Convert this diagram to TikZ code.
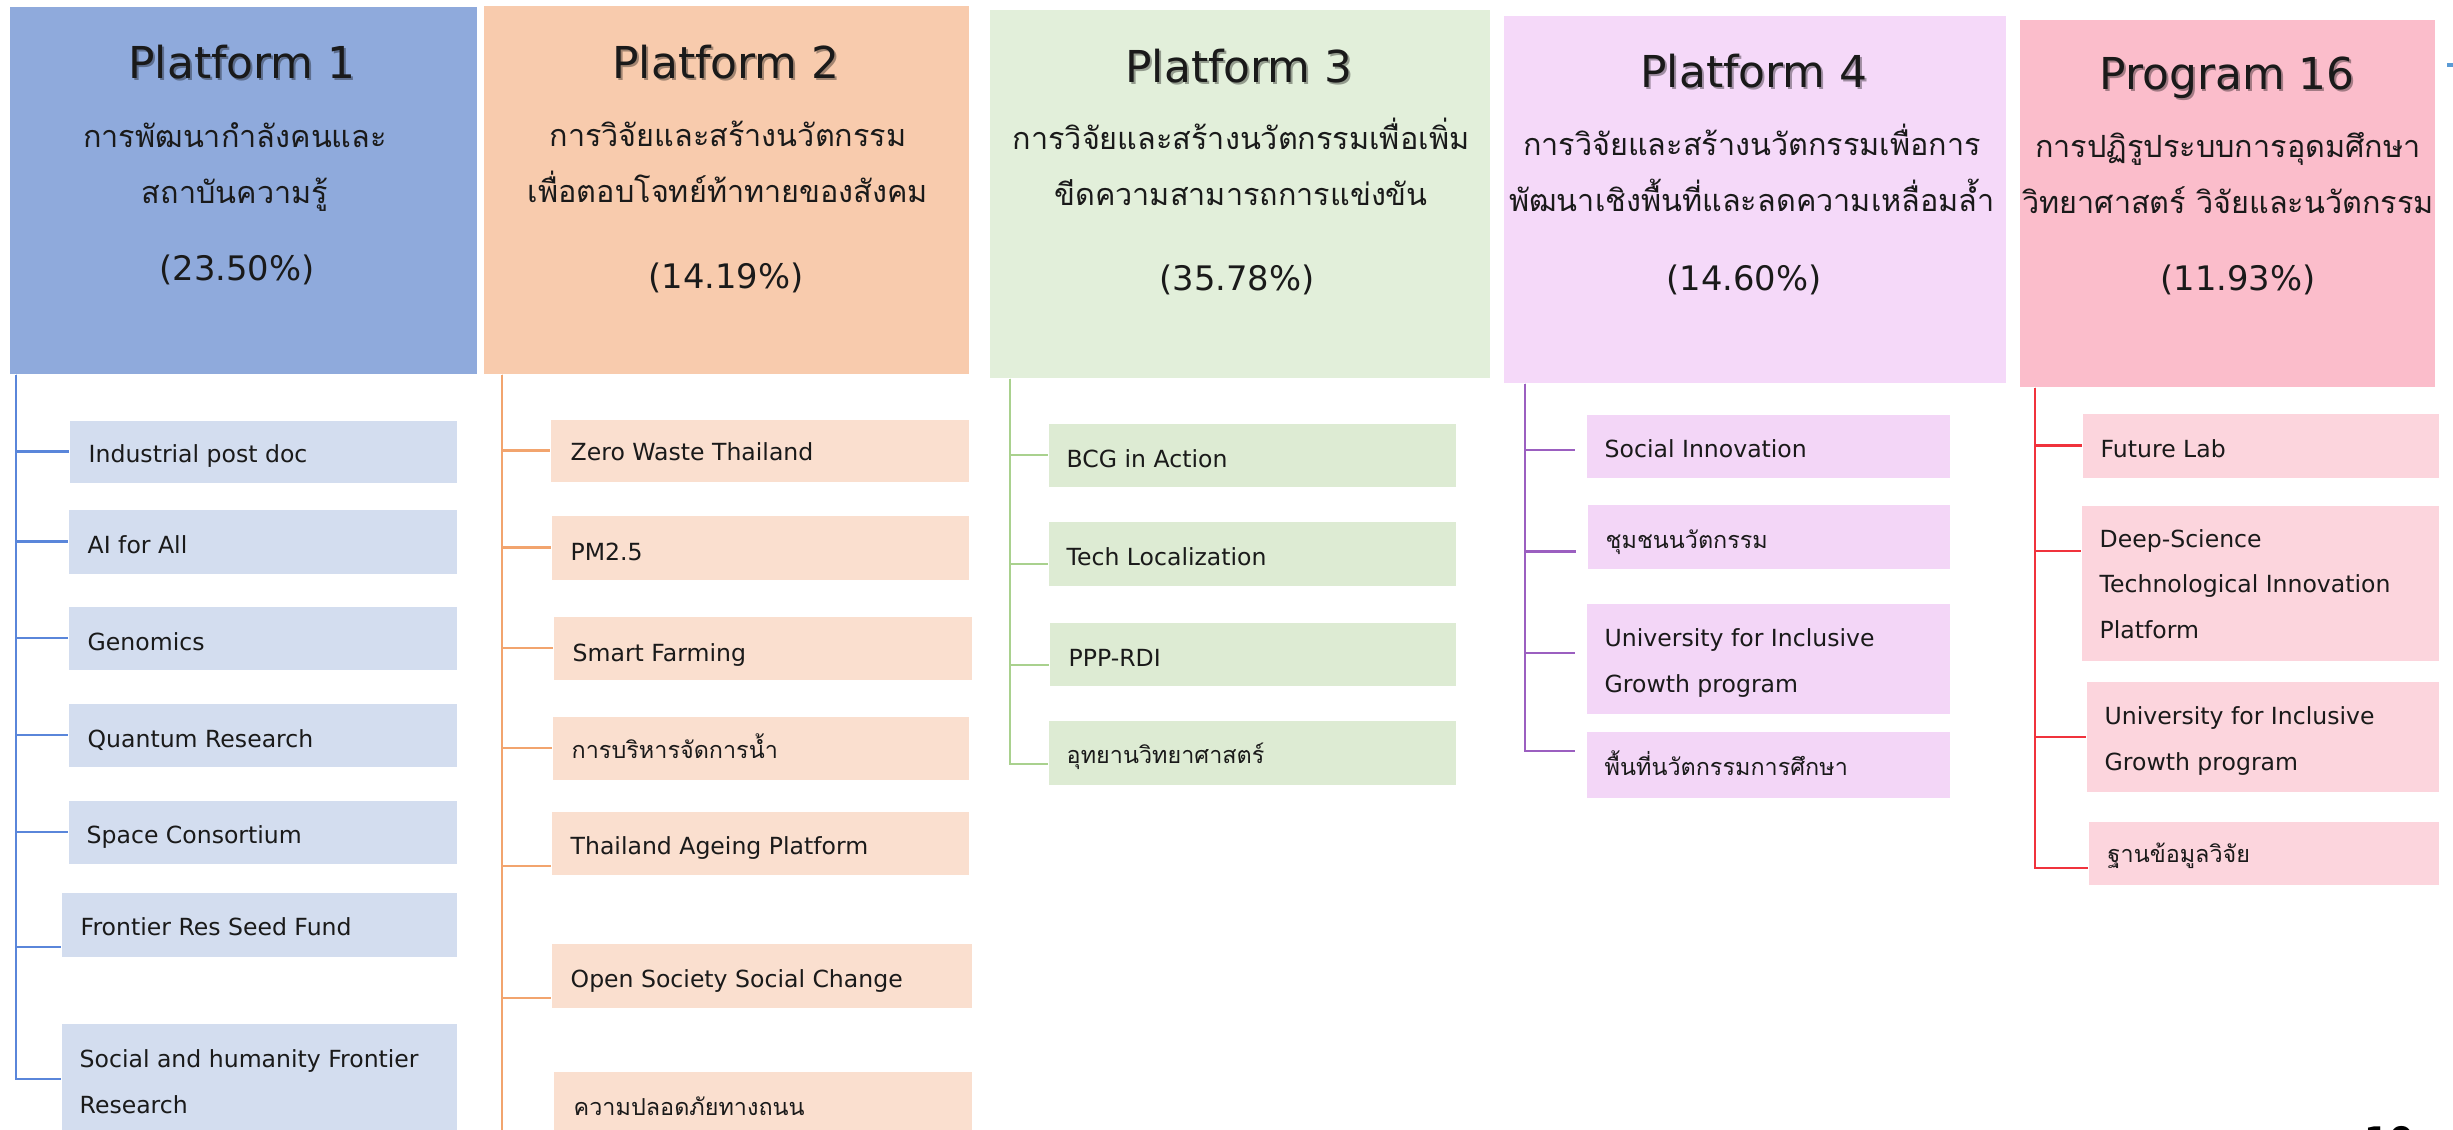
\documentclass[tikz,border=0pt]{standalone}
\usepackage{fontspec}
\setmainfont[Script=Thai]{Loma}
\newfontfamily\latinfont{DejaVu Sans}
\usetikzlibrary{calc}

% fills and line colours of the five columns
\definecolor{ink}{HTML}{1A1A1A}
\definecolor{hA}{HTML}{8FAADC}\definecolor{bA}{HTML}{D3DDEF}\definecolor{lA}{HTML}{5A86DA}
\definecolor{hB}{HTML}{F8CBAD}\definecolor{bB}{HTML}{FADFCF}\definecolor{lB}{HTML}{F2A46E}
\definecolor{hC}{HTML}{E2EFDA}\definecolor{bC}{HTML}{DDEBD3}\definecolor{lC}{HTML}{A9D18E}
\definecolor{hD}{HTML}{F5D9F9}\definecolor{bD}{HTML}{F3D6F7}\definecolor{lD}{HTML}{9B5FC0}
\definecolor{hE}{HTML}{FBBDCB}\definecolor{bE}{HTML}{FCD5DD}\definecolor{lE}{HTML}{F0323C}
\definecolor{tick}{HTML}{5B9BD5}

\tikzset{
  hdr/.style={rectangle, anchor=north west, inner sep=0pt, draw=none},
  cbox/.style={rectangle, anchor=north west, inner sep=0pt, draw=none},
  ttl/.style={anchor=base, inner sep=0pt, text=ink, font=\latinfont\fontsize{12.5}{14}\selectfont},
  ttlshadow/.style={anchor=base, inner sep=0pt, text=black, opacity=0.35, font=\latinfont\fontsize{12.5}{14}\selectfont},
  sub/.style={anchor=base, inner sep=0pt, text=ink, align=center, font=\fontsize{8.7}{15.9}\selectfont},
  pct/.style={anchor=base, inner sep=0pt, text=ink, font=\latinfont\fontsize{9.6}{12}\selectfont},
  ctext/.style={anchor=base west, inner sep=0pt, text=ink, align=left, font=\latinfont\fontsize{6.7}{12.8}\selectfont},
  cthai/.style={anchor=base west, inner sep=0pt, text=ink, font=\fontsize{6.65}{12.8}\selectfont},
  conn/.style={line width=0.7pt},
}

\begin{document}
\begin{tikzpicture}[x=0.01cm,y=-0.01cm]
\useasboundingbox (0,0) rectangle (2453,1130);
\clip (0,0) rectangle (2453,1130);
\fill[white] (0,0) rectangle (2453,1130);

% ---------- column headers ----------
\node[hdr, fill=hA, minimum width=4.67cm, minimum height=3.67cm] (h1) at (9,6) {};
\node[hdr, fill=hB, minimum width=4.85cm, minimum height=3.68cm] (h2) at (483,5) {};
\node[hdr, fill=hC, minimum width=5.00cm, minimum height=3.68cm] (h3) at (989,9) {};
\node[hdr, fill=hD, minimum width=5.02cm, minimum height=3.67cm] (h4) at (1503,15) {};
\node[hdr, fill=hE, minimum width=4.15cm, minimum height=3.67cm] (h5) at (2019,19) {};

\node[ttlshadow] (s1) at (244,80) {Platform 1};
\node[ttl] (t1) at (242,78) {Platform 1};
\node[ttlshadow] (s2) at (728,80) {Platform 2};
\node[ttl] (t2) at (726,78) {Platform 2};
\node[ttlshadow] (s3) at (1241,84) {Platform 3};
\node[ttl] (t3) at (1239,82) {Platform 3};
\node[ttlshadow] (s4) at (1756,89) {Platform 4};
\node[ttl] (t4) at (1754,87) {Platform 4};
\node[ttlshadow] (s5) at (2229,91) {Program 16};
\node[ttl] (t5) at (2227,89) {Program 16};

% two-line subtitles: the anchor sits on the baseline of the second line
\node[sub] (d1) at (235,203) {การพัฒนากำลังคนและ\\สถาบันความรู้};
\node[sub] (d2) at (728,202) {การวิจัยและสร้างนวัตกรรม\\เพื่อตอบโจทย์ท้าทายของสังคม};
\node[sub] (d3) at (1241,205) {การวิจัยและสร้างนวัตกรรมเพื่อเพิ่ม\\ขีดความสามารถการแข่งขัน};
\node[sub] (d4) at (1752,211) {การวิจัยและสร้างนวัตกรรมเพื่อการ\\พัฒนาเชิงพื้นที่และลดความเหลื่อมล้ำ};
\node[sub] (d5) at (2228,213) {การปฏิรูประบบการอุดมศึกษา\\วิทยาศาสตร์ วิจัยและนวัตกรรม};

\node[pct] (p1) at (237,280) {(23.50\%)};
\node[pct] (p2) at (726,288) {(14.19\%)};
\node[pct] (p3) at (1237,290) {(35.78\%)};
\node[pct] (p4) at (1744,290) {(14.60\%)};
\node[pct] (p5) at (2238,290) {(11.93\%)};

% ---------- Platform 1 items ----------
\node[cbox, fill=bA, minimum width=3.87cm, minimum height=0.62cm] (a1) at (69,420) {};
\node[cbox, fill=bA, minimum width=3.88cm, minimum height=0.64cm] (a2) at (68,509) {};
\node[cbox, fill=bA, minimum width=3.88cm, minimum height=0.63cm] (a3) at (68,606) {};
\node[cbox, fill=bA, minimum width=3.88cm, minimum height=0.63cm] (a4) at (68,703) {};
\node[cbox, fill=bA, minimum width=3.88cm, minimum height=0.63cm] (a5) at (68,800) {};
\node[cbox, fill=bA, minimum width=3.95cm, minimum height=0.64cm] (a6) at (61,892) {};
\node[cbox, fill=bA, minimum width=3.95cm, minimum height=1.20cm] (a7) at (61,1023) {};
\node[ctext] (ta1) at (88,462) {Industrial post doc};
\node[ctext] (ta2) at (87,553) {AI for All};
\node[ctext] (ta3) at (87,650) {Genomics};
\node[ctext] (ta4) at (87,747) {Quantum Research};
\node[ctext] (ta5) at (86,843) {Space Consortium};
\node[ctext] (ta6) at (80,935) {Frontier Res Seed Fund};
\node[ctext] (ta7) at (79,1113) {Social and humanity Frontier\\Research};
\foreach \n in {a1,a2,a3,a4,a5}
  \draw[conn, lA] ([xshift=0.07cm]h1.south west) |- (\n.west);
\draw[conn, lA] ([xshift=0.07cm]h1.south west) |- ([yshift=-0.22cm]a6.west);
\draw[conn, lA] ([xshift=0.07cm]h1.south west) |- ([yshift=0.05cm]a7.west);

% ---------- Platform 2 items ----------
\node[cbox, fill=bB, minimum width=4.18cm, minimum height=0.62cm] (b1) at (550,419) {};
\node[cbox, fill=bB, minimum width=4.17cm, minimum height=0.64cm] (b2) at (551,515) {};
\node[cbox, fill=bB, minimum width=4.18cm, minimum height=0.63cm] (b3) at (553,616) {};
\node[cbox, fill=bB, minimum width=4.16cm, minimum height=0.63cm] (b4) at (552,716) {};
\node[cbox, fill=bB, minimum width=4.17cm, minimum height=0.63cm] (b5) at (551,811) {};
\node[cbox, fill=bB, minimum width=4.20cm, minimum height=0.64cm] (b6) at (551,943) {};
\node[cbox, fill=bB, minimum width=4.18cm, minimum height=0.70cm] (b7) at (553,1071) {};
\node[ctext] (tb1) at (570,460) {Zero Waste Thailand};
\node[ctext] (tb2) at (570,560) {PM2.5};
\node[ctext] (tb3) at (572,661) {Smart Farming};
\node[cthai] (tb4) at (571,758) {การบริหารจัดการน้ำ};
\node[ctext] (tb5) at (570,854) {Thailand Ageing Platform};
\node[ctext] (tb6) at (570,987) {Open Society Social Change};
\node[cthai] (tb7) at (573,1115) {ความปลอดภัยทางถนน};
\foreach \n in {b1,b2,b3,b4}
  \draw[conn, lB] ([xshift=0.19cm]h2.south west) |- (\n.west);
\draw[conn, lB] ([xshift=0.19cm]h2.south west) |- ([yshift=-0.23cm]b5.west);
\draw[conn, lB] ([xshift=0.19cm]h2.south west) |- ([yshift=-0.22cm]b6.west);
\draw[conn, lB] ([xshift=0.19cm]h2.south west) |- ([yshift=-0.32cm]b7.west);

% ---------- Platform 3 items ----------
\node[cbox, fill=bC, minimum width=4.07cm, minimum height=0.63cm] (g1) at (1048,423) {};
\node[cbox, fill=bC, minimum width=4.07cm, minimum height=0.64cm] (g2) at (1048,521) {};
\node[cbox, fill=bC, minimum width=4.06cm, minimum height=0.63cm] (g3) at (1049,622) {};
\node[cbox, fill=bC, minimum width=4.07cm, minimum height=0.64cm] (g4) at (1048,720) {};
\node[ctext] (tg1) at (1066,467) {BCG in Action};
\node[ctext] (tg2) at (1066,565) {Tech Localization};
\node[ctext] (tg3) at (1068,666) {PPP-RDI};
\node[cthai] (tg4) at (1066,763) {อุทยานวิทยาศาสตร์};
\draw[conn, lC] ([xshift=0.21cm]h3.south west) |- (g1.west);
\draw[conn, lC] ([xshift=0.21cm]h3.south west) |- ([yshift=-0.10cm]g2.west);
\draw[conn, lC] ([xshift=0.21cm]h3.south west) |- ([yshift=-0.11cm]g3.west);
\draw[conn, lC] ([xshift=0.21cm]h3.south west) |- ([yshift=-0.11cm]g4.west);

% ---------- Platform 4 items ----------
\node[cbox, fill=bD, minimum width=3.63cm, minimum height=0.63cm] (v1) at (1586,414) {};
\node[cbox, fill=bD, minimum width=3.62cm, minimum height=0.64cm] (v2) at (1587,504) {};
\node[cbox, fill=bD, minimum width=3.63cm, minimum height=1.10cm] (v3) at (1586,603) {};
\node[cbox, fill=bD, minimum width=3.63cm, minimum height=0.66cm] (v4) at (1586,731) {};
\node[ctext] (tv1) at (1604,457) {Social Innovation};
\node[cthai] (tv2) at (1605,548) {ชุมชนนวัตกรรม};
\node[ctext] (tv3) at (1604,692) {University for Inclusive\\Growth program};
\node[cthai] (tv4) at (1604,775) {พื้นที่นวัตกรรมการศึกษา};
\draw[conn, lD] ([xshift=0.22cm]h4.south west) |- ([shift={(-11,4)}]v1.west);
\draw[conn, lD] ([xshift=0.22cm]h4.south west) |- ([shift={(-11,15)}]v2.west);
\draw[conn, lD] ([xshift=0.22cm]h4.south west) |- ([shift={(-11,-6)}]v3.west);
\draw[conn, lD] ([xshift=0.22cm]h4.south west) |- ([shift={(-11,-14)}]v4.west);

% ---------- Program 16 items ----------
\node[cbox, fill=bE, minimum width=3.56cm, minimum height=0.64cm] (r1) at (2082,413) {};
\node[cbox, fill=bE, minimum width=3.57cm, minimum height=1.55cm] (r2) at (2081,505) {};
\node[cbox, fill=bE, minimum width=3.52cm, minimum height=1.10cm] (r3) at (2086,681) {};
\node[cbox, fill=bE, minimum width=3.50cm, minimum height=0.63cm] (r4) at (2088,821) {};
\node[ctext] (tr1) at (2100,457) {Future Lab};
\node[ctext] (tr2) at (2099,638) {Deep-Science\\Technological Innovation\\Platform};
\node[ctext] (tr3) at (2104,770) {University for Inclusive\\Growth program};
\node[cthai] (tr4) at (2107,862) {ฐานข้อมูลวิจัย};
\draw[conn, lE] ([xshift=0.16cm]h5.south west) |- (r1.west);
\draw[conn, lE] ([xshift=0.16cm]h5.south west) |- ([yshift=0.32cm]r2.west);
\draw[conn, lE] ([xshift=0.16cm]h5.south west) |- (r3.west);
\draw[conn, lE] ([xshift=0.16cm]h5.south west) |- ([yshift=-0.15cm]r4.west);

% ---------- page furniture ----------
\fill[tick] (2447,63) rectangle (2453,67);
\node[anchor=base, inner sep=0pt, font=\latinfont\fontsize{10}{12}\selectfont\bfseries, text=black] (pg) at (2389,1152) {10};
\end{tikzpicture}
\end{document}
